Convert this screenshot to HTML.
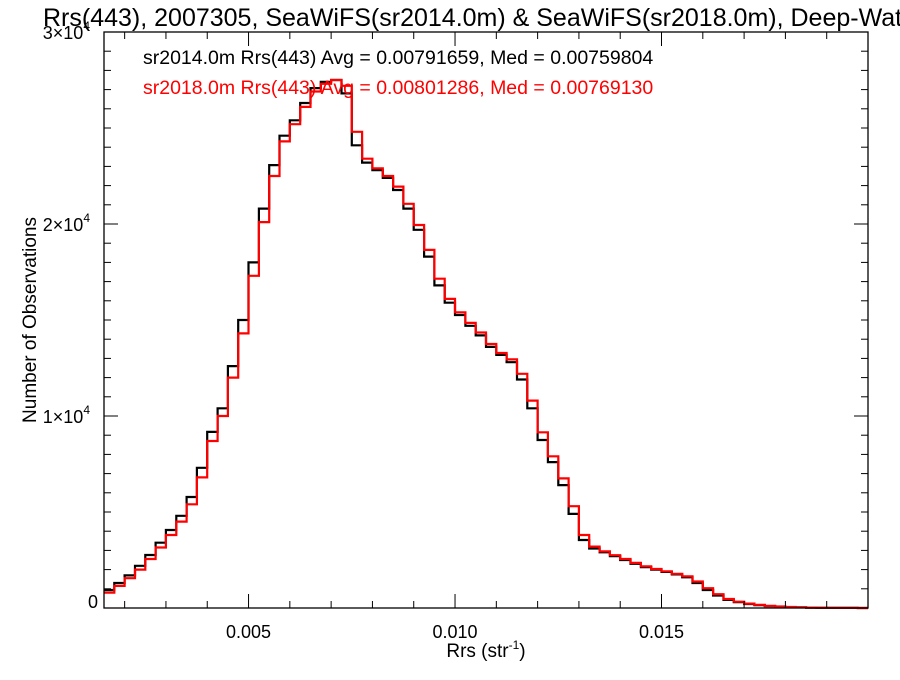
<!DOCTYPE html>
<html><head><meta charset="utf-8"><style>
body{margin:0;background:#fff;width:900px;height:675px;overflow:hidden}
svg text{font-family:"Liberation Sans",Arial,sans-serif}
</style></head><body>
<svg id="c" width="900" height="675" xmlns="http://www.w3.org/2000/svg">
<text x="43" y="26" font-size="25">Rrs(443), 2007305, SeaWiFS(sr2014.0m) &amp; SeaWiFS(sr2018.0m), Deep-Water</text>
<g id="marks"></g>
<rect x="104" y="32" width="764" height="576" fill="none" stroke="#000" stroke-width="1.3"/>
<g id="ticks"></g>
<text x="143" y="64" font-size="19.5" fill="#000">sr2014.0m Rrs(443) Avg = 0.00791659, Med = 0.00759804</text>
<text x="143" y="94" font-size="19.5" fill="#ff0000">sr2018.0m Rrs(443) Avg = 0.00801286, Med = 0.00769130</text>
<text x="486" y="657" font-size="19" text-anchor="middle">Rrs (str<tspan font-size="12" dy="-8">-1</tspan><tspan dy="8">)</tspan></text>
<text transform="translate(36,320) rotate(-90)" font-size="19" text-anchor="middle">Number of Observations</text>
</svg>
<script>
const binStart = 0.0015;
const binWidth = 0.00025;
const black2014 = [940,1300,1700,2200,2760,3400,4060,4800,5780,7300,9170,10400,12600,15000,18000,20800,23070,24600,25400,26300,27080,27400,27500,26800,24100,23200,22800,22400,21770,20800,19700,18300,16800,15900,15260,14700,14200,13600,13180,12800,11900,10400,8750,7600,6400,4900,3540,3100,2900,2700,2500,2300,2130,2000,1880,1750,1600,1300,940,650,420,300,210,150,100,70,45,30,20,12,8,5,3,2];
const red2018 = [800,1150,1550,2000,2550,3150,3800,4500,5400,6800,8700,10000,12000,14300,17300,20100,22500,24300,25200,26100,26900,27300,27500,27200,24800,23400,22900,22500,21950,21050,19950,18650,17150,16100,15400,14850,14350,13750,13280,12950,12200,10800,9150,7900,6750,5300,3800,3200,2950,2750,2550,2350,2170,2030,1910,1780,1650,1380,1030,720,470,330,230,165,110,78,50,33,22,14,9,6,4,2];
const xTicks = [0.005,0.010,0.015];
const xTickLabels = ["0.005","0.010","0.015"];
const yTicks = [0,10000,20000,30000];
const yTickLabels = ["0","1","2","3"];
const X0=104,X1=868,Y0=608,Y1=32,xmin=0.0015,xmax=0.020,ymax=30000;
const sx=v=>X0+(v-xmin)/(xmax-xmin)*(X1-X0);
const sy=v=>Y0-v/ymax*(Y0-Y1);
const NS="http://www.w3.org/2000/svg";
const marks=document.getElementById('marks'), ticks=document.getElementById('ticks');
function mk(t,a,p){const e=document.createElementNS(NS,t);for(const k in a)e.setAttribute(k,a[k]);p.appendChild(e);return e;}
function step(vals,color,name){
  let d='';
  vals.forEach((v,i)=>{const xa=sx(binStart+i*binWidth),xb=sx(binStart+(i+1)*binWidth),y=sy(v);
    d+=(i?'L':'M')+xa.toFixed(1)+','+y.toFixed(1)+'L'+Math.min(xb,X1).toFixed(1)+','+y.toFixed(1);});
  const p=mk('path',{d:d,fill:'none',stroke:color,'stroke-width':2.2},marks);
  
  
}
step(black2014,'#000','series-sr2014');
step(red2018,'#ff0000','series-sr2018');
for(let k=2;k<=19;k++){const v=k/1000;const x=sx(v);const major=(k%5===0);const L=major?14:7;
  mk('line',{x1:x,x2:x,y1:Y0,y2:Y0-L,stroke:'#000'},ticks);
  mk('line',{x1:x,x2:x,y1:Y1,y2:Y1+L,stroke:'#000'},ticks);}
xTicks.forEach((v,i)=>{const t=mk('text',{x:sx(v),y:Y0+30,'font-size':18,'text-anchor':'middle'},ticks);t.textContent=xTickLabels[i];
  
  });
for(let v=1000;v<30000;v+=1000){const y=sy(v);const major=(v%10000===0);const L=major?14:7;
  mk('line',{x1:X0,x2:X0+L,y1:y,y2:y,stroke:'#000'},ticks);
  mk('line',{x1:X1,x2:X1-L,y1:y,y2:y,stroke:'#000'},ticks);}
yTicks.forEach((v,i)=>{const y=sy(v);const t=mk('text',{x:X0-6,y:y+(v===0?0:7),'font-size':18,'text-anchor':'end'},ticks);
  if(v===0){t.textContent='0';}else{t.innerHTML=yTickLabels[i]+'\u00d710<tspan font-size="12" dy="-9">4</tspan>';t.setAttribute('x',X0-14);}
  
  });
</script>
</body></html>
